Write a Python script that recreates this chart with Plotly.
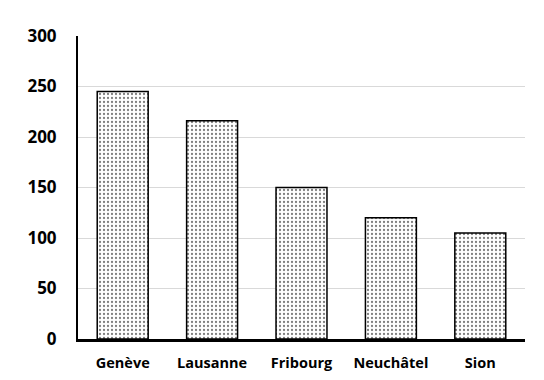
import plotly.graph_objects as go

cities = ["Genève", "Lausanne", "Fribourg", "Neuchâtel", "Sion"]
values = [245, 216, 150, 120, 105]
y_ticks = [0, 50, 100, 150, 200, 250, 300]

fig = go.Figure(go.Bar(
    x=cities, y=values, width=0.57,
    marker=dict(
        color="white",
        line=dict(color="black", width=1.5),
        pattern=dict(shape=".", fgcolor="black", bgcolor="white", size=4, solidity=0.25),
    ),
))

# page body has an 8px default margin, so the figure is sized to fit the window
fig.update_layout(
    width=536, height=372,
    margin=dict(l=70, r=19, t=28, b=41),
    plot_bgcolor="white", paper_bgcolor="white",
    showlegend=False,
    font=dict(family="Open Sans", color="black"),
    bargap=0.43,
)
fig.update_xaxes(
    showline=True, linecolor="black", linewidth=2.5,
    tickfont=dict(size=14.5, family="Open Sans", weight="bold"),
    ticks="", ticklabelstandoff=9, automargin=False,
)
fig.update_yaxes(
    range=[0, 300], tickvals=y_ticks,
    showline=True, linecolor="black", linewidth=2,
    showgrid=True, gridcolor="#d9d9d9", gridwidth=1,
    zeroline=False,
    tickfont=dict(size=17, family="Open Sans", weight="bold"),
    ticks="", ticklabelstandoff=16, automargin=False,
)

fig.write_html("out.html")
